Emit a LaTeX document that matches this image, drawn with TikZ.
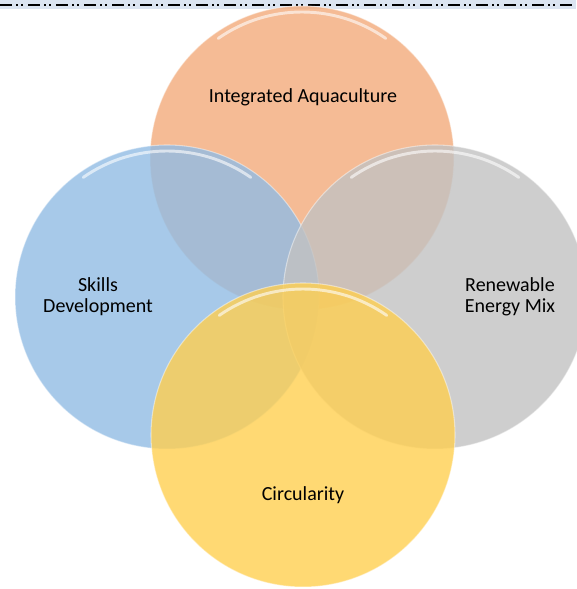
\documentclass[tikz,border=0pt]{standalone}
\usepackage{fontspec}
\setmainfont{Carlito}
\usetikzlibrary{positioning}

\definecolor{aquaOrange}{RGB}{242,170,122}
\definecolor{skillBlue}{RGB}{145,188,228}
\definecolor{energyGray}{RGB}{194,194,194}
\definecolor{circYellow}{RGB}{255,207,80}
\definecolor{bandBlue}{RGB}{219,228,241}

\tikzset{
  venn/.style={circle, minimum size=228pt, inner sep=0pt, fill opacity=.8,
    draw=white, draw opacity=.45, line width=.8pt},
  gloss/.style={white, opacity=.6, line width=2.2pt, line cap=round},
  venntext/.style={font=\fontsize{15}{15.75}\selectfont, align=center, text=black}
}

\begin{document}
\begin{tikzpicture}[x=0.75pt, y=0.75pt]
  \useasboundingbox (0,0) rectangle (576,589);

  % top rule
  \fill[bandBlue] (0,580) rectangle (576,589);
  \draw[line width=1.5pt, dash pattern=on 9pt off 3pt on 1.5pt off 2.25pt on 1.5pt off 3.75pt]
    (0,584) -- (576,584);

  % circles
  \node[venn, fill=aquaOrange] (aqua) at (302,431) {};
  \draw[gloss] (aqua.center) ++(125:146) arc (125:55:146);
  \node[venn, fill=skillBlue] (skills) at (167,292) {};
  \draw[gloss] (skills.center) ++(125:146) arc (125:55:146);
  \node[venn, fill=energyGray] (energy) at (435,292) {};
  \draw[gloss] (energy.center) ++(125:146) arc (125:55:146);
  \node[venn, fill=circYellow] (circ) at (303,154) {};
  \draw[gloss] (circ.center) ++(125:146) arc (125:55:146);

  % labels
  \node[venntext] (aquaText) at (303,492) {Integrated Aquaculture};
  \node[venntext] (skillsText) at (98,292) {Skills\\Development};
  \node[venntext] (energyText) at (510,292) {Renewable\\Energy Mix};
  \node[venntext] (circText) at (303,94) {Circularity};
\end{tikzpicture}
\end{document}
